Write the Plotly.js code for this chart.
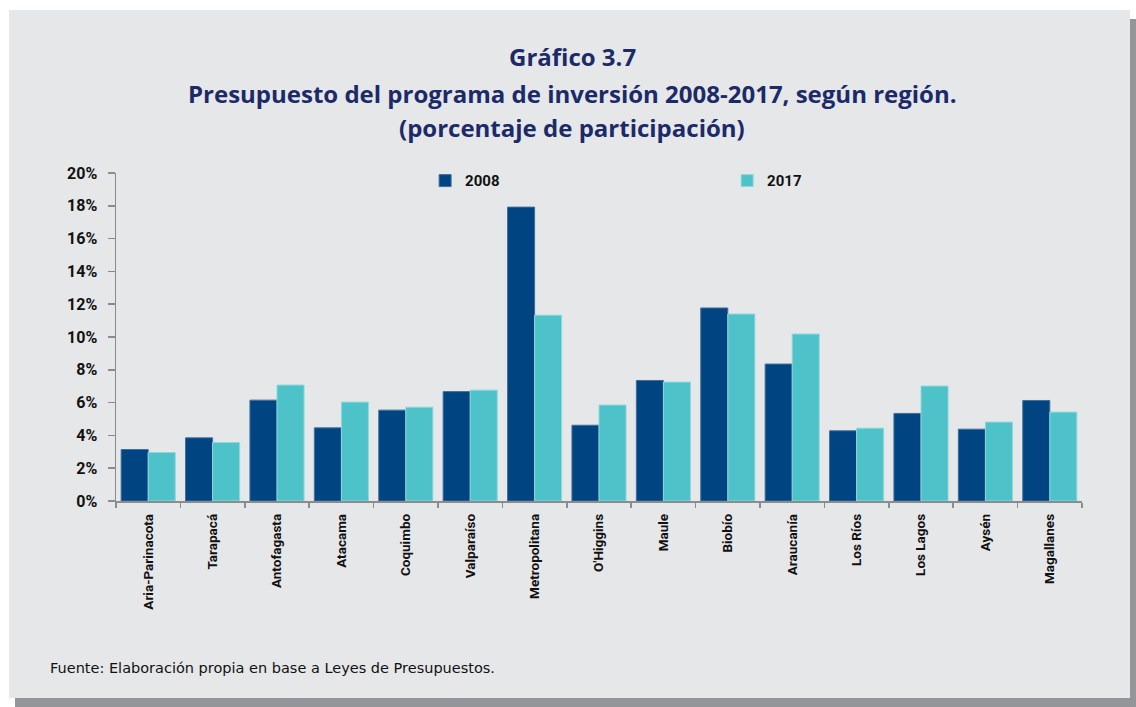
<!DOCTYPE html>
<html><head><meta charset="utf-8">
<script src="https://cdn.plot.ly/plotly-3.0.1.min.js"></script>
<style>
html,body{margin:0;padding:0;background:#fff;}
#wrap{position:relative;width:1136px;height:707px;overflow:hidden;background:#fff;}
#panel{position:absolute;left:9px;top:10px;width:1121px;height:688px;background:#e6e7e9;box-shadow:6px 9px 0 #939598;}
#chart{position:absolute;left:0;top:0;width:1136px;height:707px;}
</style></head>
<body><div id="wrap"><div id="panel"></div><div id="chart"></div></div>
<script>
const regions = ["Aria-Parinacota","Tarapacá","Antofagasta","Atacama","Coquimbo","Valparaíso","Metropolitana","O'Higgins","Maule","Biobío","Araucanía","Los Ríos","Los Lagos","Aysén","Magallanes"];
const values2008 = [3.14,3.85,6.15,4.46,5.54,6.67,17.92,4.62,7.35,11.77,8.35,4.28,5.34,4.38,6.13];
const values2017 = [2.96,3.57,7.07,6.03,5.72,6.76,11.33,5.85,7.25,11.40,10.18,4.44,7.01,4.81,5.42];
const yTicks = [0,2,4,6,8,10,12,14,16,18,20];
const yTickText = yTicks.map(v => v + "%");

const narrow = "Roboto, DejaVu Sans, sans-serif";
const yTickFont = {family:narrow, size:16, color:"#111", weight:700};
const legendFont = {family:narrow, size:15, color:"#111", weight:700};
const xTickFont = {family:narrow, size:13.5, color:"#111", weight:700};
const titleFont = {family:"Open Sans, Noto Sans, sans-serif", size:24, color:"#1c2a68", weight:700};

const traces = [
  {type:"bar", name:"2008", x:regions, y:values2008, marker:{color:"#004481", line:{color:"#3f6f9e", width:1}}},
  {type:"bar", name:"2017", x:regions, y:values2017, marker:{color:"#4dc3c9", line:{color:"#8fd8dc", width:1}}}
];

const layout = {
  width:1136, height:707,
  paper_bgcolor:"rgba(0,0,0,0)", plot_bgcolor:"rgba(0,0,0,0)",
  margin:{l:116, r:54, t:173, b:206},
  barmode:"group", bargap:0.16, bargroupgap:0,
  showlegend:true,
  legend:{orientation:"h", x:0.32, xanchor:"left", y:0.976, yanchor:"middle",
    bgcolor:"rgba(0,0,0,0)", font:legendFont,
    entrywidth:257, entrywidthmode:"pixels", itemclick:false},
  xaxis:{type:"category", showline:true, linecolor:"#8a8c8e", linewidth:1.5,
    ticks:"outside", tickson:"boundaries", ticklen:5, tickcolor:"#8a8c8e", tickwidth:1.5,
    tickangle:-90, ticklabelstandoff:6,
    tickfont:xTickFont, showgrid:false, zeroline:false, fixedrange:true},
  yaxis:{range:[0,20], tickvals:yTicks, ticktext:yTickText, showline:true, linecolor:"#8a8c8e", linewidth:1.5,
    ticks:"outside", ticklen:7, tickcolor:"#8a8c8e", tickwidth:1.5, ticklabelstandoff:7,
    tickfont:yTickFont, showgrid:false, zeroline:false, fixedrange:true},
  annotations:[
    {text:"Gráfico 3.7", xref:"paper", yref:"paper", x:0.4725, y:1.0, xanchor:"center", yanchor:"middle", showarrow:false, font:titleFont, yshift:-56+173},
    {text:"Presupuesto del programa de inversión 2008-2017, según región.", xref:"paper", yref:"paper", x:0.4725, y:1.0, xanchor:"center", yanchor:"middle", showarrow:false, font:titleFont, yshift:-93+173},
    {text:"(porcentaje de participación)", xref:"paper", yref:"paper", x:0.4725, y:1.0, xanchor:"center", yanchor:"middle", showarrow:false, font:titleFont, yshift:-127+173},
    {text:"Fuente: Elaboración propia en base a Leyes de Presupuestos.", xref:"paper", yref:"paper", x:0, y:0, xanchor:"left", yanchor:"middle", xshift:48-116, yshift:-(668-501), showarrow:false,
     font:{family:"DejaVu Sans, sans-serif", size:14.5, color:"#111"}}
  ]
};
Plotly.newPlot("chart", traces, layout, {displayModeBar:false, staticPlot:true});
</script></body></html>
